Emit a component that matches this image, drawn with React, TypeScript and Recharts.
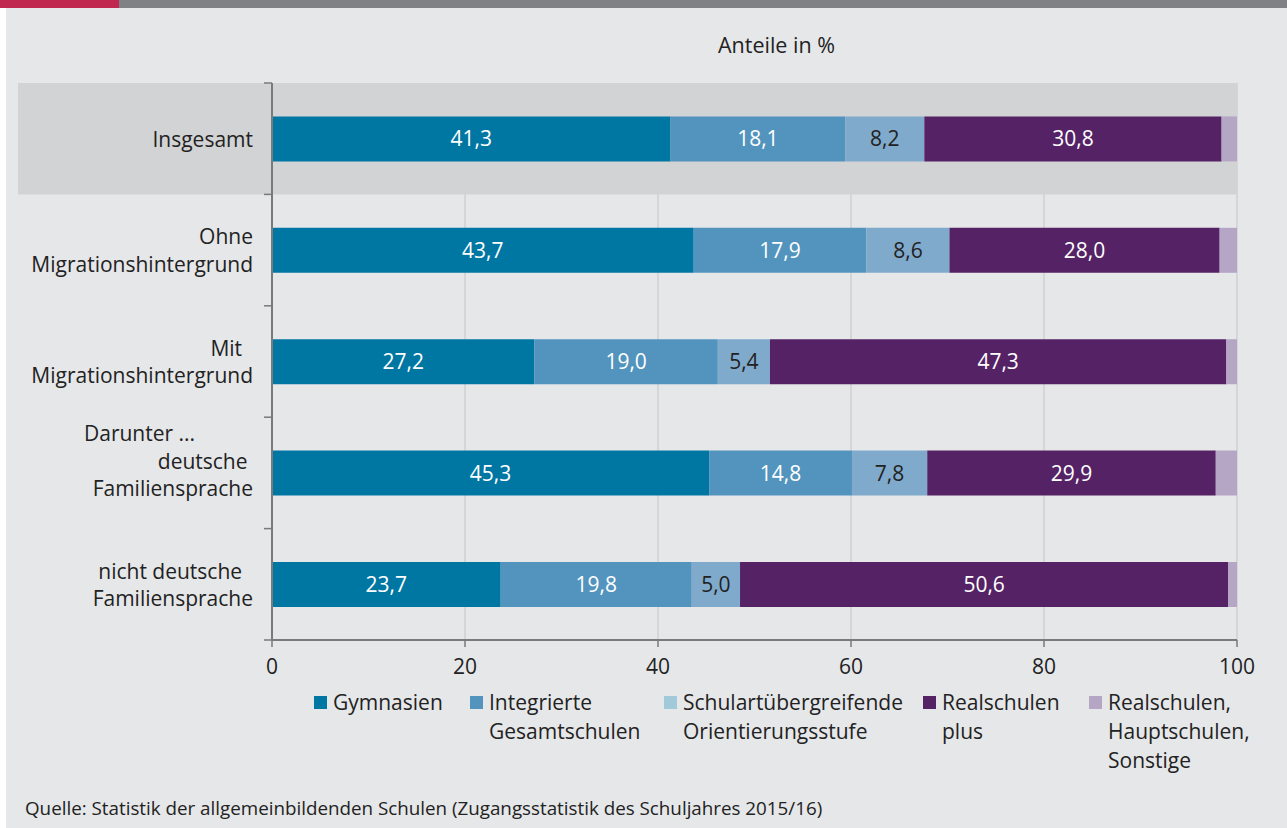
import React from "react";
import {
  BarChart,
  Bar,
  XAxis,
  YAxis,
  CartesianGrid,
  ReferenceArea,
  LabelList,
} from "recharts";

const categories = [
  "Insgesamt",
  "Ohne Migrationshintergrund",
  "Mit Migrationshintergrund",
  "Darunter deutsche Familiensprache",
  "nicht deutsche Familiensprache",
];
const categoryLines = [
  ["Insgesamt"],
  ["Ohne", "Migrationshintergrund"],
  ["Mit\u00a0\u00a0", "Migrationshintergrund"],
  ["Darunter ...", "deutsche\u00a0", "Familiensprache"],
  ["nicht deutsche\u00a0\u00a0", "Familiensprache"],
];

const gymnasien = [41.3, 43.7, 27.2, 45.3, 23.7];
const integrierte = [18.1, 17.9, 19.0, 14.8, 19.8];
const orientierung = [8.2, 8.6, 5.4, 7.8, 5.0];
const realschulenPlus = [30.8, 28.0, 47.3, 29.9, 50.6];
const sonstige = [1.6, 1.8, 1.1, 2.2, 0.9];

const xTicks = [0, 20, 40, 60, 80, 100];

const seriesKeys = ["gym", "igs", "orient", "rsplus", "rest"];
const seriesNames = [
  ["Gymnasien"],
  ["Integrierte", "Gesamtschulen"],
  ["Schulartübergreifende", "Orientierungsstufe"],
  ["Realschulen", "plus"],
  ["Realschulen,", "Hauptschulen,", "Sonstige"],
];
const seriesColors = ["#0076a3", "#5294bd", "#80aacc", "#552266", "#b6a6c6"];
const legendColors = ["#0076a3", "#5294bd", "#a2c9da", "#552266", "#b6a6c6"];
const labelColors = ["#ffffff", "#ffffff", "#222222", "#ffffff", null];

const rows = categories.map((name, i) => ({
  name,
  gym: gymnasien[i],
  igs: integrierte[i],
  orient: orientierung[i],
  rsplus: realschulenPlus[i],
  rest: sonstige[i],
}));

const FONT = "'Open Sans', 'Noto Sans', sans-serif";
const PLOT_TOP = 83;
const PLOT_BOTTOM = 640;
const BAND = (PLOT_BOTTOM - PLOT_TOP) / categories.length;
const legendX = [314, 470, 664, 923, 1089];

const fmt = (v: number) => v.toFixed(1).replace(".", ",");

function CategoryTick(props: any) {
  const { x, y, index } = props;
  const lines = categoryLines[index] || [];
  const shift = lines.length > 2 ? -12 : 0;
  const start = y - ((lines.length - 1) * 27.5) / 2 + shift;
  return (
    <g>
      <line x1={x - 8} x2={x} y1={y - BAND / 2} y2={y - BAND / 2} stroke="#7a7a7a" strokeWidth={1.5} />
      {index === categories.length - 1 && (
        <line x1={x - 8} x2={x} y1={y + BAND / 2} y2={y + BAND / 2} stroke="#7a7a7a" strokeWidth={1.5} />
      )}
      {lines.map((l, i) => (
        <text
          key={i}
          x={l.startsWith("Darunter") ? x - 188 : x - 19}
          y={start + i * 27.5}
          textAnchor={l.startsWith("Darunter") ? "start" : "end"}
          dominantBaseline="central"
          fontSize={21}
          fontFamily={FONT}
          fill="#222"
        >
          {l}
        </text>
      ))}
    </g>
  );
}

export default function App() {
  return (
    <div style={{ position: "relative", width: 1287, height: 828, background: "#fff", overflow: "hidden", fontFamily: FONT }}>
      <style>{"body{margin:0}"}</style>
      <div style={{ position: "absolute", left: 0, top: 0, width: 1287, height: 8, background: "#808184" }} />
      <div style={{ position: "absolute", left: 0, top: 0, width: 119, height: 8, background: "#c0284f" }} />
      <div style={{ position: "absolute", left: 6, top: 8, right: 0, bottom: 0, background: "#e6e7e9" }} />
      <div style={{ position: "absolute", left: 718, top: 31, fontSize: 21.5, color: "#222", lineHeight: "28px" }}>
        Anteile in %
      </div>

      <div style={{ position: "absolute", left: 0, top: 0 }}>
        <BarChart
          width={1287}
          height={700}
          data={rows}
          layout="vertical"
          margin={{ top: PLOT_TOP, right: 50, bottom: 10, left: 0 }}
          barCategoryGap="30%"
        >
          <ReferenceArea
            y1="Insgesamt"
            y2="Insgesamt"
            fill="#d2d3d5"
            fillOpacity={1}
            shape={(p: any) => (
              <rect x={18} y={p.y} width={p.x + p.width - 18} height={p.height} fill="#d2d3d5" />
            )}
          />
          <CartesianGrid horizontal={false} stroke="#c4c5c7" strokeWidth={1} />
          <XAxis
            type="number"
            domain={[0, 100]}
            ticks={xTicks}
            axisLine={{ stroke: "#7a7a7a", strokeWidth: 2 }}
            tickLine={{ stroke: "#7a7a7a", strokeWidth: 1.5 }}
            tickSize={7}
            tickMargin={12}
            height={50}
            tick={{ fontSize: 21, fill: "#222", fontFamily: FONT }}
          />
          <YAxis
            type="category"
            dataKey="name"
            width={272}
            axisLine={{ stroke: "#7a7a7a", strokeWidth: 2 }}
            tickLine={false}
            tickSize={0}
            tickMargin={0}
            tick={<CategoryTick />}
            interval={0}
          />
          {seriesKeys.map((k, i) => (
            <Bar key={k} dataKey={k} stackId="a" fill={seriesColors[i]} isAnimationActive={false}>
              {labelColors[i] && (
                <LabelList
                  dataKey={k}
                  position="center"
                  formatter={(v: any) => fmt(Number(v))}
                  fill={labelColors[i] as string}
                  fontSize={21}
                  fontFamily={FONT}
                />
              )}
            </Bar>
          ))}
        </BarChart>
      </div>

      {seriesNames.map((lines, i) => (
        <div key={i} style={{ position: "absolute", left: legendX[i], top: 688 }}>
          <div style={{ position: "absolute", left: 0, top: 8, width: 13, height: 13, background: legendColors[i] }} />
          <div style={{ position: "absolute", left: 19, top: 0, fontSize: 21, lineHeight: "29px", color: "#222", whiteSpace: "nowrap" }}>
            {lines.map((l, j) => (
              <div key={j}>{l}</div>
            ))}
          </div>
        </div>
      ))}

      <div style={{ position: "absolute", left: 25, top: 795, fontSize: 18.8, color: "#222", whiteSpace: "nowrap" }}>
        Quelle: Statistik der allgemeinbildenden Schulen (Zugangsstatistik des Schuljahres 2015/16)
      </div>
    </div>
  );
}
